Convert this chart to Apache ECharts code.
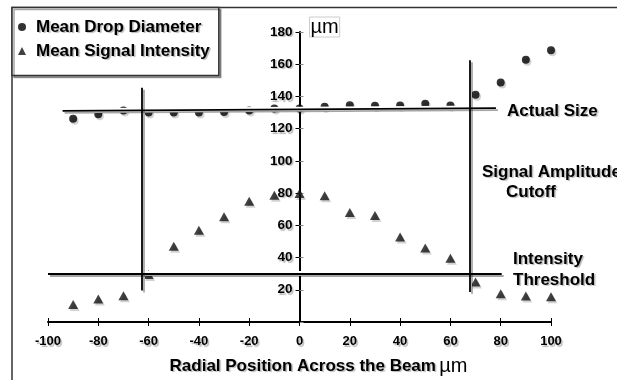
<!DOCTYPE html>
<html>
<head>
<meta charset="utf-8">
<script src="https://cdn.jsdelivr.net/npm/echarts@6/dist/echarts.min.js"></script>
<style>
  html, body { margin: 0; padding: 0; background: #fff; }
  #chart { width: 617px; height: 380px; }
</style>
</head>
<body>
<div id="chart"></div>
<script>
// Radial positions of the measurement stations (µm)
const radialPositions = [-90, -80, -70, -60, -50, -40, -30, -20, -10, 0,
                         10, 20, 30, 40, 50, 60, 70, 80, 90, 100];
// Mean drop diameter at each station (µm)
const meanDropDiameter = [126.1, 129.0, 131.3, 130.0, 130.0, 130.0, 130.4, 131.3, 132.5, 132.5,
                          133.6, 134.6, 134.2, 134.4, 135.4, 134.4, 141.0, 148.7, 162.8, 168.6];
// Mean signal intensity at each station
const meanSignalIntensity = [10.9, 14.2, 16.3, 29.5, 47.0, 57.0, 65.3, 75.0, 78.6, 79.7,
                             78.3, 68.0, 66.1, 52.8, 46.0, 39.5, 24.8, 17.6, 16.1, 15.7];

// Axis ranges
const xRange = [-100, 100];
const xStep = 20;
const yRange = [0, 180];
const yStep = 20;

// Guide lines in data coordinates: [start, end]
const actualSizeLine = [[-94.2, 131.1], [78.1, 132.8]];
const leftCutoffLine = [[-62.7, 145.4], [-62.7, 19.6]];
const rightCutoffLine = [[67.6, 162.4], [67.6, 18.6]];
const thresholdLine = [[-100, 30.0], [80.4, 30.0]];

const FONT = '"Liberation Sans", Arial, Helvetica, sans-serif';
const textShadow = {
  textShadowColor: 'rgba(0,0,0,0.28)',
  textShadowBlur: 1,
  textShadowOffsetX: 1.5,
  textShadowOffsetY: 1.5
};

const dom = document.getElementById('chart');
const GRID = { left: 48, right: 66, top: 32, bottom: 58 };
// the vertical axis crosses the horizontal one at x = 0
const plotWidth = dom.clientWidth - GRID.left - GRID.right;
const zeroShift = plotWidth * (0 - xRange[0]) / (xRange[1] - xRange[0]);

const toPairs = (xs, ys) => xs.map((x, i) => [x, ys[i]]);
const guideSegments = [actualSizeLine, leftCutoffLine, rightCutoffLine, thresholdLine]
  .map(seg => [{ coord: seg[0] }, { coord: seg[1] }]);

function annotation(text, x, y) {
  return {
    type: 'text',
    z: 50,
    style: Object.assign({
      text: text,
      x: x,
      y: y,
      verticalAlign: 'middle',
      font: 'bold 17px ' + FONT,
      fill: '#000'
    }, textShadow)
  };
}

const chart = echarts.init(dom, null, { renderer: 'canvas' });

chart.setOption({
  animation: false,
  backgroundColor: '#fff',
  textStyle: { fontFamily: FONT },
  grid: Object.assign({ containLabel: false, outerBoundsMode: 'none' }, GRID),
  legend: {
    orient: 'vertical',
    left: 12,
    top: 7.5,
    padding: [11, 9, 16, 6],
    itemGap: 7,
    itemWidth: 8,
    itemHeight: 8,
    backgroundColor: '#fff',
    borderColor: '#333',
    borderWidth: 1.5,
    shadowColor: 'rgba(0,0,0,0.35)',
    shadowBlur: 0,
    shadowOffsetX: 2,
    shadowOffsetY: 2,
    selectedMode: false,
    textStyle: Object.assign({
      fontSize: 17,
      fontWeight: 'bold',
      color: '#000',
      padding: [0, 0, 0, 5]
    }, textShadow),
    data: [
      { name: 'Mean Drop Diameter', icon: 'circle' },
      { name: 'Mean Signal Intensity', icon: 'triangle' }
    ]
  },
  xAxis: [
    {
      type: 'value',
      min: xRange[0],
      max: xRange[1],
      interval: xStep,
      position: 'bottom',
      name: '{b|Radial Position Across the Beam} {u|µm}',
      nameLocation: 'middle',
      nameGap: 34,
      nameTextStyle: {
        padding: [0, 0, 0, 38],
        rich: {
          b: Object.assign({ fontSize: 17, fontWeight: 'bold', color: '#000' }, textShadow),
          u: { fontSize: 20, fontWeight: 'normal', color: '#000' }
        }
      },
      axisLine: { show: true, onZero: false, lineStyle: { color: '#000', width: 2 } },
      axisTick: { show: true, length: 4, lineStyle: { color: '#000', width: 1 } },
      axisLabel: Object.assign({
        fontSize: 13,
        fontWeight: 'bold',
        color: '#000',
        margin: 13
      }, textShadow),
      splitLine: { show: false }
    },
    {
      // upward half of the crossing ticks
      type: 'value',
      min: xRange[0],
      max: xRange[1],
      interval: xStep,
      position: 'bottom',
      axisLine: { show: false, onZero: false },
      axisTick: { show: true, inside: true, length: 4, lineStyle: { color: '#000', width: 1 } },
      axisLabel: { show: false },
      splitLine: { show: false }
    }
  ],
  yAxis: [
    {
      type: 'value',
      min: yRange[0],
      max: yRange[1],
      interval: yStep,
      position: 'left',
      offset: -zeroShift,
      name: '{u|µm}',
      nameLocation: 'end',
      nameGap: 5,
      nameTextStyle: {
        align: 'left',
        verticalAlign: 'middle',
        padding: [0, 0, 0, 10],
        rich: {
          u: {
            fontSize: 20,
            color: '#000',
            borderColor: '#ccc',
            borderWidth: 1,
            padding: [0, 1, 0, 1]
          }
        }
      },
      axisLine: { show: true, onZero: false, lineStyle: { color: '#000', width: 2 } },
      axisTick: { show: true, length: 4, lineStyle: { color: '#000', width: 1 } },
      axisLabel: Object.assign({
        fontSize: 13.5,
        fontWeight: 'bold',
        color: '#000',
        margin: 7,
        formatter: v => (v === 0 ? '' : String(v))
      }, textShadow),
      splitLine: { show: false }
    },
    {
      // rightward half of the crossing ticks
      type: 'value',
      min: yRange[0],
      max: yRange[1],
      interval: yStep,
      position: 'right',
      offset: -(plotWidth - zeroShift),
      axisLine: { show: false, onZero: false },
      axisTick: { show: true, length: 4, lineStyle: { color: '#888', width: 1 } },
      axisLabel: { show: false },
      splitLine: { show: false }
    }
  ],
  graphic: [
    {
      type: 'rect',
      z: -10,
      shape: { x: 12, y: 7.5, width: 800, height: 600 },
      style: { fill: 'none', stroke: '#333', lineWidth: 1.5 }
    },
    annotation('Actual Size', 507, 111),
    annotation('Signal Amplitude', 482, 172),
    annotation('Cutoff', 506, 192),
    annotation('Intensity', 513, 259),
    annotation('Threshold', 513, 280)
  ],
  series: [
    {
      name: 'Mean Drop Diameter',
      type: 'scatter',
      symbol: 'circle',
      symbolSize: 8,
      z: 3,
      itemStyle: {
        color: '#000',
        shadowColor: 'rgba(0,0,0,0.22)',
        shadowBlur: 0,
        shadowOffsetX: 1.5,
        shadowOffsetY: 2
      },
      data: toPairs(radialPositions, meanDropDiameter)
    },
    {
      name: 'Mean Signal Intensity',
      type: 'scatter',
      symbol: 'triangle',
      symbolSize: [10, 9],
      z: 3,
      itemStyle: {
        color: '#111',
        shadowColor: 'rgba(0,0,0,0.22)',
        shadowBlur: 0,
        shadowOffsetX: 1.5,
        shadowOffsetY: 2
      },
      data: toPairs(radialPositions, meanSignalIntensity)
    },
    {
      // white halo behind the guide lines
      type: 'line',
      data: [],
      z: 4,
      silent: true,
      markLine: {
        silent: true,
        symbol: ['none', 'none'],
        label: { show: false },
        lineStyle: { color: '#fff', width: 5, type: 'solid' },
        data: guideSegments
      }
    },
    {
      // guide lines: actual size, amplitude cutoffs, intensity threshold
      type: 'line',
      data: [],
      z: 5,
      silent: true,
      markLine: {
        silent: true,
        symbol: ['none', 'none'],
        label: { show: false },
        lineStyle: {
          color: '#000',
          width: 1.8,
          type: 'solid',
          shadowColor: 'rgba(0,0,0,0.35)',
          shadowBlur: 0,
          shadowOffsetX: 2,
          shadowOffsetY: 2
        },
        data: guideSegments
      }
    }
  ]
});
</script>
</body>
</html>
